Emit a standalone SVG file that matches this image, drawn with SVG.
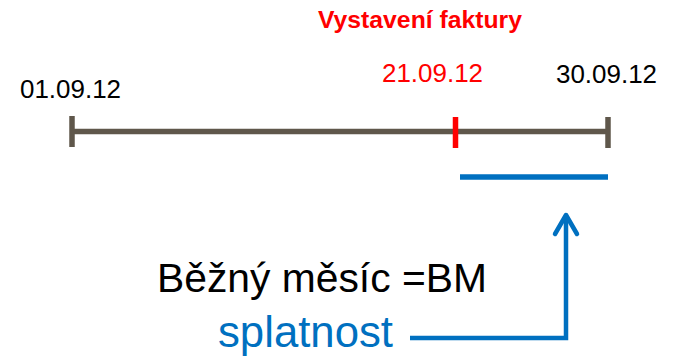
<svg xmlns="http://www.w3.org/2000/svg" width="675" height="360" viewBox="0 0 675 360">
  <style>
    .t { font-family: "Liberation Sans", Arial, sans-serif; }
    .date { font-size: 26px; }
    .tl { stroke: #5f574b; stroke-width: 5.5; fill: none; }
    .blue { stroke: #0070c0; fill: none; }
  </style>
  <rect width="675" height="360" fill="#ffffff"/>
  <g id="title">
    <text class="t" x="318" y="28" font-size="24.5" font-weight="bold" fill="#ff0000" textLength="204" lengthAdjust="spacingAndGlyphs">Vystavení faktury</text>
  </g>
  <g id="timeline">
    <line class="tl" x1="72" y1="131.5" x2="608" y2="131.5"/>
    <line class="tl" x1="72" y1="116" x2="72" y2="147"/>
    <line class="tl" x1="608" y1="117" x2="608" y2="148"/>
    <line x1="455.5" y1="117" x2="455.5" y2="148" stroke="#ff0000" stroke-width="5.5"/>
  </g>
  <g id="date-start">
    <text class="t date" x="20" y="98" fill="#000000" textLength="101" lengthAdjust="spacingAndGlyphs">01.09.12</text>
  </g>
  <g id="date-invoice">
    <text class="t date" x="382" y="82" fill="#ff0000" textLength="101" lengthAdjust="spacingAndGlyphs">21.09.12</text>
  </g>
  <g id="date-end">
    <text class="t date" x="556" y="83" fill="#000000" textLength="101" lengthAdjust="spacingAndGlyphs">30.09.12</text>
  </g>
  <g id="period">
    <line class="blue" x1="460" y1="177" x2="608" y2="177" stroke-width="5.5"/>
  </g>
  <g id="bm-label">
    <text class="t" x="157" y="292" font-size="41" fill="#000000" textLength="330" lengthAdjust="spacingAndGlyphs">Běžný měsíc =BM</text>
  </g>
  <g id="splatnost-label">
    <text class="t" x="218" y="346.5" font-size="43.5" fill="#0070c0" textLength="175" lengthAdjust="spacingAndGlyphs">splatnost</text>
  </g>
  <g id="connectors">
    <polyline class="blue" points="410,338 566,338 566,216" stroke-width="4.5" stroke-linejoin="miter"/>
    <polyline class="blue" points="555,234 566,215 577,234" stroke-width="4.5" stroke-linecap="round" stroke-linejoin="round"/>
  </g>
</svg>
